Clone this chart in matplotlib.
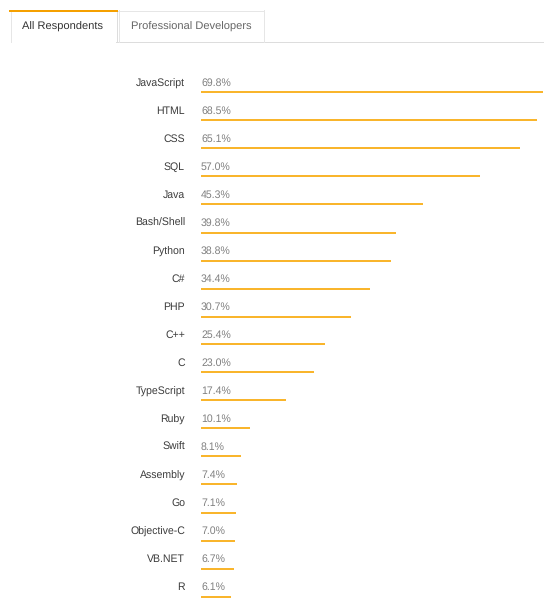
import matplotlib.pyplot as plt
import numpy as np
from matplotlib.lines import Line2D

languages = ['JavaScript', 'HTML', 'CSS', 'SQL', 'Java', 'Bash/Shell', 'Python', 'C#', 'PHP',
             'C++', 'C', 'TypeScript', 'Ruby', 'Swift', 'Assembly', 'Go', 'Objective-C',
             'VB.NET', 'R']
share = [69.8, 68.5, 65.1, 57.0, 45.3, 39.8, 38.8, 34.4, 30.7,
         25.4, 23.0, 17.4, 10.1, 8.1, 7.4, 7.1, 7.0, 6.7, 6.1]
tabs = ['All Respondents', 'Professional Developers']

W, H = 558, 601
plt.rcParams['font.family'] = ['Liberation Sans', 'DejaVu Sans']
plt.rcParams['text.hinting'] = 'no_hinting'
fig = plt.figure(figsize=(W / 100, H / 100), dpi=100)

bar_col = '#F9B52C'
n = len(languages)
row = 28.0
fs = 7.6

# bars area: x=0 -> 201px, 69.8 -> 543px ; row i bar centre at 92.5 + 28 i
ax = fig.add_axes([201 / W, 0, 342 / W, 531 / H])
ax.set_xlim(0, 69.8)
ax.set_ylim((601 - 92.5) / row, (70 - 92.5) / row)
idx = np.arange(n)
ax.barh(idx, share, height=2 / row, color=bar_col)
text_y = idx - 6.2 / row  # text baseline
for i, v in enumerate(share):
    ax.text(0, text_y[i], f'{v:.1f}%', ha='left', va='baseline', fontsize=fs, color='#808080')
ax.set_yticks(text_y, languages)
ax.tick_params(axis='y', length=0, pad=11.5, labelsize=fs, labelcolor='#3c3c3c')
plt.setp(ax.get_yticklabels(), va='baseline')
ax.set_xticks([])
for s in ax.spines.values():
    s.set_visible(False)


def px(x, y):
    return x / W, 1 - y / H


# tabs
def hline(x0, x1, y, c, lw=1):
    fig.add_artist(Line2D([x0 / W, x1 / W], [1 - y / H, 1 - y / H], color=c, lw=lw * 0.72,
                          transform=fig.transFigure))


def vline(x, y0, y1, c, lw=1):
    fig.add_artist(Line2D([x / W, x / W], [1 - y0 / H, 1 - y1 / H], color=c, lw=lw * 0.72,
                          transform=fig.transFigure))


hline(116, 543, 42, '#dddddd')
vline(10.5, 11, 42, '#e6e6e6')
vline(116.5, 11, 42, '#dddddd')
hline(10, 117, 11, '#F5A000', 2)
vline(118.5, 10, 42, '#e6e6e6')
vline(263.5, 10, 42, '#e6e6e6')
hline(118, 264, 10.5, '#e6e6e6')

fig.text(*px(63, 29.5), tabs[0], ha='center', va='baseline', fontsize=8, color='#333333')
fig.text(*px(191, 29.5), tabs[1], ha='center', va='baseline', fontsize=8, color='#666666')

fig.savefig('out.png', dpi=100)
